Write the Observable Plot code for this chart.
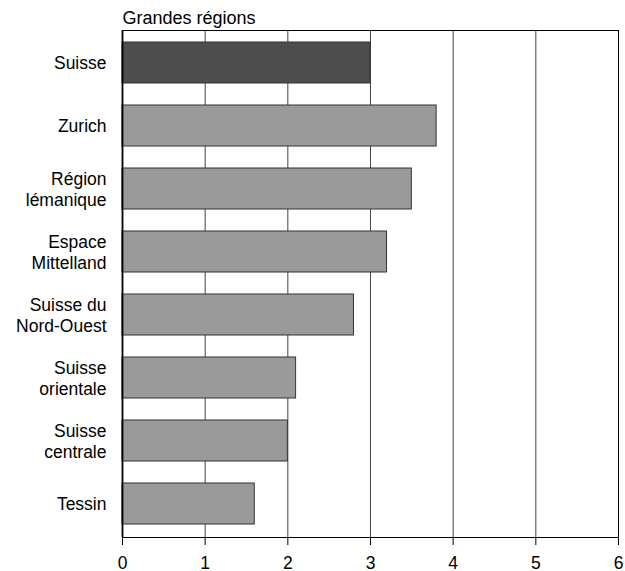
<!DOCTYPE html>
<html>
<head>
<meta charset="utf-8">
<script src="https://cdn.jsdelivr.net/npm/d3@7"></script>
<script src="https://cdn.jsdelivr.net/npm/@observablehq/plot@0.6"></script>
<style>
  html, body { margin: 0; padding: 0; background: #fff; }
  #chart { width: 625px; height: 571px; }
</style>
</head>
<body>
<div id="chart"></div>
<script>
const regions = ["Suisse", "Zurich", "Région lémanique", "Espace Mittelland", "Suisse du Nord-Ouest", "Suisse orientale", "Suisse centrale", "Tessin"];
const labels = ["Suisse", "Zurich", "Région\nlémanique", "Espace\nMittelland", "Suisse du\nNord-Ouest", "Suisse\norientale", "Suisse\ncentrale", "Tessin"];
const values = [3.0, 3.8, 3.5, 3.2, 2.8, 2.1, 2.0, 1.6];
const xTicks = [0, 1, 2, 3, 4, 5, 6];
const title = "Grandes régions";

const data = regions.map((r, i) => ({region: r, value: values[i], total: r === "Suisse"}));
const labelOf = new Map(regions.map((r, i) => [r, labels[i]]));

const chart = Plot.plot({
  width: 625,
  height: 571,
  marginLeft: 122,
  marginRight: 7,
  marginTop: 30,
  marginBottom: 34,
  style: {fontFamily: "'Liberation Sans', Arial, Helvetica, sans-serif", fontSize: "17.5px", color: "#000", background: "#fff", overflow: "visible"},
  x: {domain: [0, 6], ticks: xTicks},
  y: {domain: regions, paddingInner: 0.345, paddingOuter: 0.172},
  marks: [
    Plot.gridX(xTicks, {stroke: "#444", strokeOpacity: 1, strokeWidth: 1}),
    Plot.barX(data, {x: "value", y: "region", fill: d => d.total ? "#4d4d4d" : "#9a9a9a", stroke: "#333", strokeWidth: 1}),
    Plot.frame({stroke: "#000", strokeWidth: 1}),
    Plot.ruleX([0], {stroke: "#000", strokeWidth: 1.8}),
    Plot.ruleY([0], {frameAnchor: "bottom", stroke: "#000", strokeWidth: 2}),
    Plot.axisX({ticks: xTicks, tickSize: 8, tickPadding: 11, tickFormat: d => String(d), label: null, stroke: "#000", fontSize: 17.5}),
    Plot.axisY({tickSize: 0, tickPadding: 16, label: null, tickFormat: d => labelOf.get(d), lineHeight: 1.15, fontSize: 17.5}),
    Plot.text([title], {frameAnchor: "top-left", textAnchor: "start", lineAnchor: "bottom", dy: -7, fontSize: 18})
  ]
});
document.getElementById("chart").appendChild(chart);
</script>
</body>
</html>
